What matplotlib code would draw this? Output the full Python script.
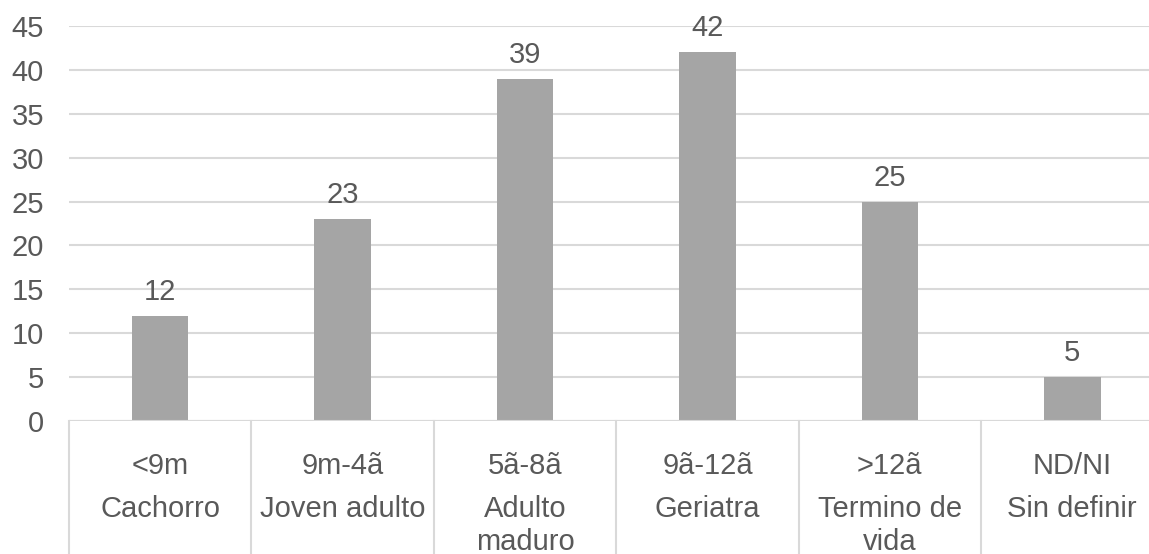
import matplotlib.pyplot as plt
from matplotlib.transforms import blended_transform_factory

plt.rcParams['font.family'] = ['Liberation Sans', 'DejaVu Sans']

# Age groups and counts
age_ranges = ["<9m", "9m-4ã", "5ã-8ã", "9ã-12ã", ">12ã", "ND/NI"]
stages = ["Cachorro", "Joven adulto", "Adulto\nmaduro", "Geriatra", "Termino de\nvida", "Sin definir"]
counts = [12, 23, 39, 42, 25, 5]

text_color = "#595959"
bar_color = "#A5A5A5"
grid_color = "#D9D9D9"
fs = 21

W, H = 1149, 554
fig = plt.figure(figsize=(W / 100, H / 100), dpi=100)
# plot area runs a little past the right edge of the canvas
left, right, top, bottom = 69, 1163.5, 26, 421
ax = fig.add_axes([left / W, (H - bottom) / H, (right - left) / W, (bottom - top) / H])

x = list(range(len(counts)))
bars = ax.bar(x, counts, width=0.31, color=bar_color, zorder=3)
ax.set_xlim(-0.5, len(counts) - 0.5)
ax.set_ylim(0, 45)
ax.set_yticks(range(0, 46, 5))
ax.tick_params(axis='y', length=0, pad=18, labelsize=fs, labelcolor=text_color)
ax.set_xticks([])
for s in ax.spines.values():
    s.set_visible(False)
ax.grid(axis='y', color=grid_color, linewidth=1.5, zorder=0)
ax.axhline(0, color=grid_color, linewidth=1.5, zorder=4)

# value labels above bars
for b, v in zip(bars, counts):
    ax.annotate(str(v), (b.get_x() + b.get_width() / 2, v), xytext=(0, 11.5),
                textcoords='offset points', ha='center', va='baseline',
                fontsize=fs, color=text_color)

# two-level category axis
trans = blended_transform_factory(ax.transData, fig.transFigure)
px = lambda p: (H - p) / H
for i in range(len(counts) + 1):
    ax.plot([i - 0.5, i - 0.5], [px(bottom), 0], transform=trans, color=grid_color,
            linewidth=1.5, clip_on=False)
for i, (r, st) in enumerate(zip(age_ranges, stages)):
    ax.text(i, px(474.5), r, transform=trans, ha='center', va='baseline',
            fontsize=fs, color=text_color)
    for j, line in enumerate(st.split("\n")):
        ax.text(i, px(517 + 33 * j), line, transform=trans, ha='center',
                va='baseline', fontsize=fs, color=text_color)

fig.savefig("out.png", dpi=100)
